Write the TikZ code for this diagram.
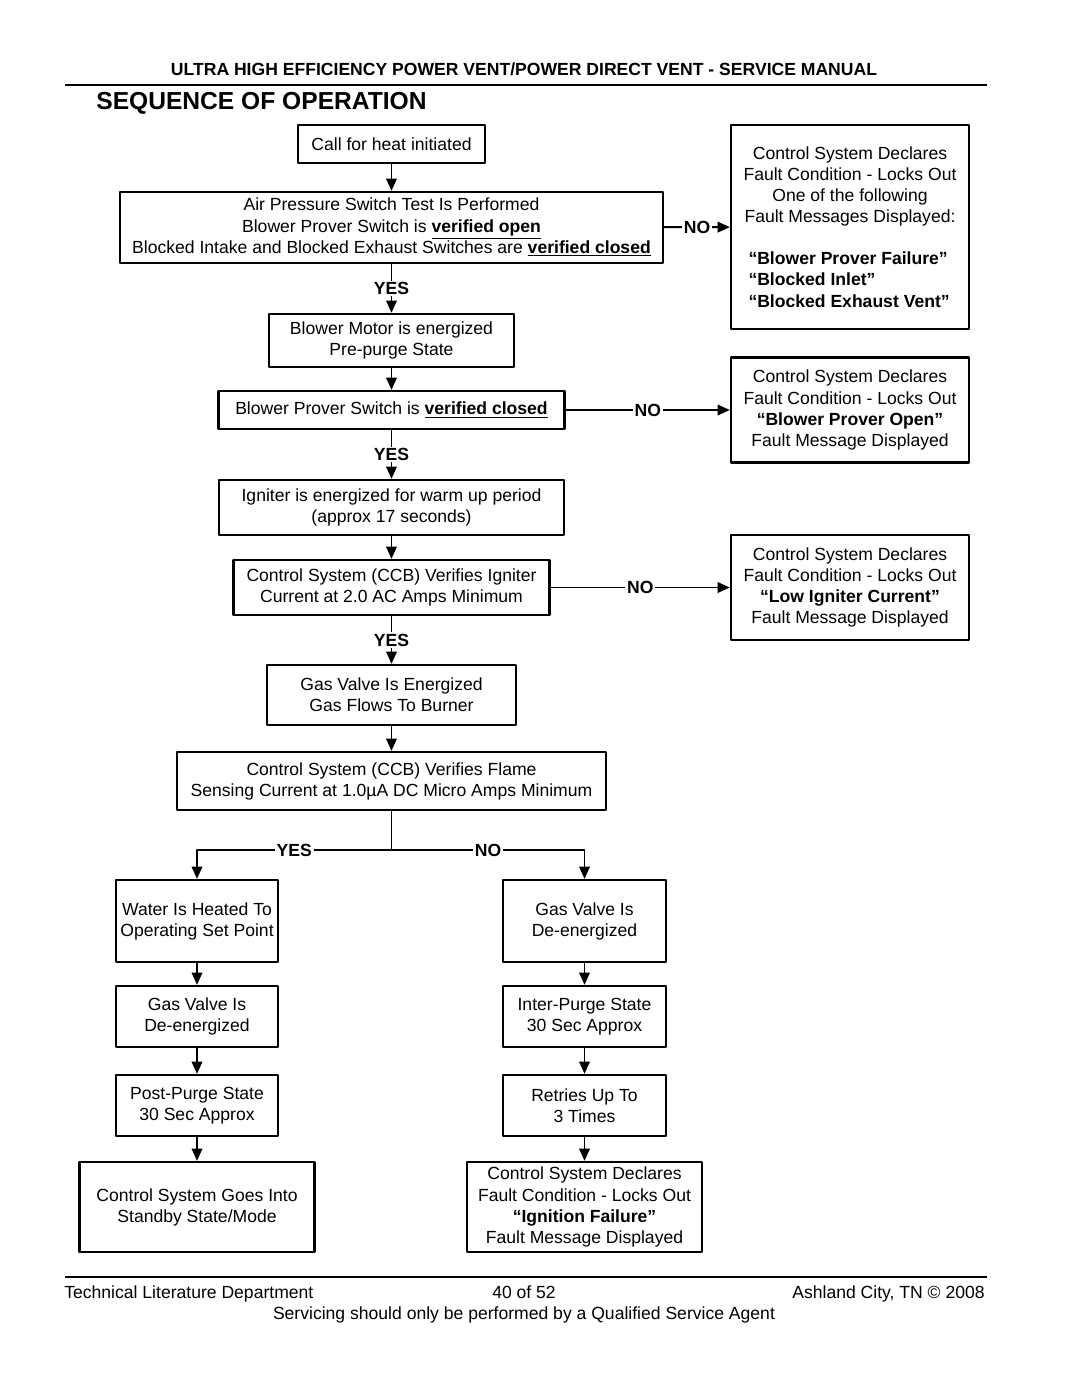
\documentclass[tikz,border=0pt]{standalone}
\usepackage{fontspec}
\setmainfont{Liberation Sans}
\usetikzlibrary{arrows.meta}
\tikzset{
  box/.style={draw, line width=1.3pt, align=center, inner sep=1pt, font=\fontsize{10}{12}\selectfont},
  yn/.style={fill=white, inner sep=1pt, font=\fontsize{10}{12}\selectfont\bfseries},
  flow/.style={line width=1.1pt, -{Triangle[length=7pt,width=6pt]}},
  txt/.style={inner sep=0pt, font=\fontsize{10}{12}\selectfont}
}
\newcommand{\vfy}[1]{\underline{\textbf{#1}}}
\newcommand{\msg}[1]{\makebox[4.06cm][l]{\textbf{#1}}}
\begin{document}
\begin{tikzpicture}[x=0.02cm, y=-0.02cm, line join=round]
\useasboundingbox (0,0) rectangle (1080,1397);
% header
\node[txt, anchor=base, font=\fontsize{10}{12}\selectfont\bfseries] (title) at (524,75) {ULTRA HIGH EFFICIENCY POWER VENT/POWER DIRECT VENT - SERVICE MANUAL};
\draw[line width=1.2pt] (65,85) -- (987,85);
\node[txt, anchor=base west, font=\fontsize{14}{16}\selectfont\bfseries] (seq) at (96,109) {SEQUENCE OF OPERATION};

% main column
\def\cx{391.5}
\node[box, minimum width=3.74cm, minimum height=0.76cm] (call) at (\cx,144) {Call for heat initiated};
\node[box, minimum width=10.86cm, minimum height=1.42cm] (air) at (\cx,227.5) {Air Pressure Switch Test Is Performed\\
  Blower Prover Switch is \vfy{verified open}\\
  Blocked Intake and Blocked Exhaust Switches are \vfy{verified closed}};
\node[box, minimum width=4.9cm, minimum height=1.06cm] (motor) at (\cx,340.5) {Blower Motor is energized\\Pre-purge State};
\node[box, minimum width=6.92cm, minimum height=0.76cm] (prover) at (\cx,410) {Blower Prover Switch is \vfy{verified closed}};
\node[box, minimum width=6.9cm, minimum height=1.1cm] (igniter) at (\cx,507.5) {Igniter is energized for warm up period\\(approx 17 seconds)};
\node[box, minimum width=6.32cm, minimum height=1.1cm] (ccb) at (\cx,587.5) {Control System (CCB) Verifies Igniter\\Current at 2.0 AC Amps Minimum};
\node[box, minimum width=4.98cm, minimum height=1.2cm] (gason) at (\cx,695) {Gas Valve Is Energized\\Gas Flows To Burner};
\node[box, minimum width=8.58cm, minimum height=1.16cm] (flame) at (\cx,781) {Control System (CCB) Verifies Flame\\Sensing Current at 1.0µA DC Micro Amps Minimum};

% fault boxes
\node[box, minimum width=4.76cm, minimum height=4.08cm] (fault1) at (850,227) {Control System Declares\\Fault Condition - Locks Out\\One of the following\\Fault Messages Displayed:\\[12pt]
  \msg{“Blower Prover Failure”}\\\msg{“Blocked Inlet”}\\\msg{“Blocked Exhaust Vent”}};
\node[box, minimum width=4.76cm, minimum height=2.1cm] (fault2) at (850,410) {Control System Declares\\Fault Condition - Locks Out\\\textbf{“Blower Prover Open”}\\Fault Message Displayed};
\node[box, minimum width=4.76cm, minimum height=2.1cm] (fault3) at (850,587.5) {Control System Declares\\Fault Condition - Locks Out\\\textbf{“Low Igniter Current”}\\Fault Message Displayed};

% yes branch
\node[box, minimum width=3.24cm, minimum height=1.64cm] (water) at (197,921) {Water Is Heated To\\Operating Set Point};
\node[box, minimum width=3.24cm, minimum height=1.22cm] (gasoffl) at (197,1016.5) {Gas Valve Is\\De-energized};
\node[box, minimum width=3.24cm, minimum height=1.22cm] (postpurge) at (197,1105.5) {Post-Purge State\\30 Sec Approx};
\node[box, minimum width=4.7cm, minimum height=1.8cm] (standby) at (197,1207) {Control System Goes Into\\Standby State/Mode};

% no branch
\node[box, minimum width=3.26cm, minimum height=1.64cm] (gasoffr) at (584.5,921) {Gas Valve Is\\De-energized};
\node[box, minimum width=3.26cm, minimum height=1.22cm] (interpurge) at (584.5,1016.5) {Inter-Purge State\\30 Sec Approx};
\node[box, minimum width=3.26cm, minimum height=1.22cm] (retries) at (584.5,1105.5) {Retries Up To\\3 Times};
\node[box, minimum width=4.7cm, minimum height=1.8cm] (ignfail) at (584.5,1207) {Control System Declares\\Fault Condition - Locks Out\\\textbf{“Ignition Failure”}\\Fault Message Displayed};

% connectors
\draw[flow] (call) -- (air);
\draw[flow] (air) -- node[yn]{YES} (motor);
\draw[flow] (air) -- node[yn]{NO} (fault1);
\draw[flow] (motor) -- (prover);
\draw[flow] (prover) -- node[yn]{YES} (igniter);
\draw[flow] (prover) -- node[yn]{NO} (fault2);
\draw[flow] (igniter) -- (ccb);
\draw[flow] (ccb) -- node[yn]{YES} (gason);
\draw[flow] (ccb) -- node[yn]{NO} (fault3);
\draw[flow] (gason) -- (flame);
\coordinate (split) at (\cx,850);
\draw[line width=1.1pt] (flame) -- (split);
\draw[flow] (split) -- node[yn]{YES} (split -| water) -- (water);
\draw[flow] (split) -- node[yn]{NO} (split -| gasoffr) -- (gasoffr);
\draw[flow] (water) -- (gasoffl);
\draw[flow] (gasoffl) -- (postpurge);
\draw[flow] (postpurge) -- (standby);
\draw[flow] (gasoffr) -- (interpurge);
\draw[flow] (interpurge) -- (retries);
\draw[flow] (retries) -- (ignfail);

% footer
\draw[line width=1.2pt] (65,1277) -- (987,1277);
\node[txt, anchor=base west] (dept) at (64,1298) {Technical Literature Department};
\node[txt, anchor=base] (page) at (524,1298) {40 of 52};
\node[txt, anchor=base east] (city) at (985,1298) {Ashland City, TN © 2008};
\node[txt, anchor=base] (agent) at (524,1319) {Servicing should only be performed by a Qualified Service Agent};
\end{tikzpicture}
\end{document}
